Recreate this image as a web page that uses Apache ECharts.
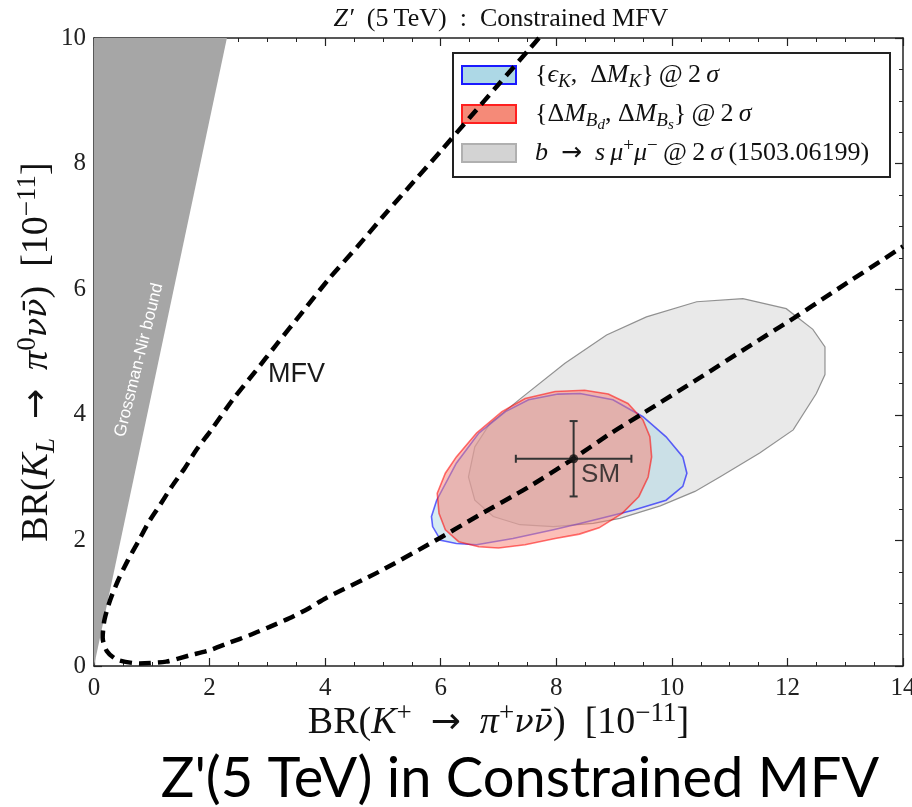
<!DOCTYPE html>
<html>
<head>
<meta charset="utf-8">
<title>Z'(5 TeV) in Constrained MFV</title>
<script src="https://cdn.jsdelivr.net/npm/echarts@6.0.0/dist/echarts.min.js"></script>
<style>
  html, body { margin: 0; padding: 0; background: #fff; }
  #chart { width: 912px; height: 807px; }
</style>
</head>
<body>
<div id="chart"></div>
<script>
// 坐标轴刻度
const xTicks = [0, 2, 4, 6, 8, 10, 12, 14]
const yTicks = [0, 2, 4, 6, 8, 10]

// Grossman-Nir 边界 (灰色三角区)
const gnBound = [[0, 0], [0, 10], [2.3, 10]]

// MFV 虚线, 从上端沿曲线走到右端
const mfvCurve = [
  [7.7, 10.0], [7.55, 9.84], [7.0, 9.26], [6.5, 8.73], [6.02, 8.22], [5.53, 7.71],
  [5.05, 7.21], [4.56, 6.68], [4.07, 6.17], [3.61, 5.64], [3.15, 5.11], [2.8, 4.7],
  [2.4, 4.24], [2.03, 3.76], [1.77, 3.44], [1.57, 3.15], [1.34, 2.85], [1.14, 2.56],
  [0.94, 2.28], [0.76, 1.97], [0.59, 1.69], [0.42, 1.37], [0.28, 1.05], [0.18, 0.73],
  [0.15, 0.45], [0.22, 0.24], [0.4, 0.1], [0.79, 0.04], [1.25, 0.07], [1.66, 0.17],
  [2.0, 0.25], [2.34, 0.37], [2.69, 0.49], [3.03, 0.62], [3.38, 0.76], [3.72, 0.92],
  [4.01, 1.08], [4.93, 1.5], [5.97, 2.03], [6.66, 2.4], [7.52, 2.85], [8.26, 3.28],
  [8.95, 3.71], [9.53, 4.04], [10.5, 4.6], [11.3, 5.07], [12.11, 5.54], [12.75, 5.93],
  [13.9, 6.62], [14.0, 6.68]
]

// b -> s mu mu @ 2 sigma
const bsmumuRegion = [
  [6.48, 3.01], [6.59, 3.49], [6.85, 3.86], [7.37, 4.25], [8.15, 4.82], [8.87, 5.27],
  [9.56, 5.56], [10.43, 5.8], [11.23, 5.85], [11.98, 5.69], [12.44, 5.36], [12.65, 5.08],
  [12.65, 4.64], [12.5, 4.34], [12.1, 3.76], [11.52, 3.39], [10.83, 3.01], [10.4, 2.78],
  [9.8, 2.55], [9.1, 2.35], [8.64, 2.27], [7.95, 2.22], [7.37, 2.25], [6.91, 2.38], [6.59, 2.64]
]

// {eps_K, Delta M_K} @ 2 sigma
const epsKRegion = [
  [5.84, 2.38], [5.93, 2.64], [6.27, 3.23], [6.66, 3.71], [7.12, 4.05], [7.52, 4.24],
  [8.03, 4.33], [8.41, 4.34], [8.98, 4.24], [9.5, 3.97], [9.9, 3.65], [10.19, 3.33],
  [10.26, 3.07], [10.19, 2.86], [9.9, 2.64], [9.33, 2.48], [8.76, 2.35], [8.41, 2.27],
  [7.95, 2.17], [7.25, 2.03], [6.62, 1.93], [6.27, 1.95], [6.0, 2.0], [5.86, 2.22]
]

// {Delta M_Bd, Delta M_Bs} @ 2 sigma
const deltaMBRegion = [
  [5.94, 2.75], [6.08, 3.07], [6.27, 3.33], [6.62, 3.71], [7.06, 4.05], [7.46, 4.26],
  [7.98, 4.37], [8.49, 4.39], [8.9, 4.33], [9.24, 4.18], [9.5, 3.92], [9.62, 3.65],
  [9.65, 3.33], [9.59, 3.01], [9.43, 2.7], [9.14, 2.43], [8.74, 2.2], [8.4, 2.1],
  [7.98, 2.03], [7.46, 1.93], [7.0, 1.88], [6.66, 1.9], [6.31, 1.98], [6.08, 2.17], [5.97, 2.43]
]

// SM 预测值及误差
const smPoint = [[8.3, 3.3]]
const smError = [[8.3, 3.3, 1.0, 0.6]]

const serif = "'Liberation Serif', 'DejaVu Serif', serif"
const sans = "'Liberation Sans', Arial, sans-serif"

// 数学公式用的 rich 样式: 斜体, 下标, 上标, 箭头
function mathRich (size, color) {
  const lh = Math.round(size * 1.4)
  const s = Math.round(size * 0.72)
  const ss = Math.round(size * 0.56)
  return {
    r: { fontFamily: serif, fontSize: size, color, lineHeight: lh },
    i: { fontFamily: serif, fontSize: size, fontStyle: 'italic', color, lineHeight: lh },
    nu: { fontFamily: "'DejaVu Serif', serif", fontSize: Math.round(size * 0.85), fontStyle: 'italic', color, lineHeight: lh },
    ar: { fontFamily: "'DejaVu Sans', sans-serif", fontSize: Math.round(size * 0.95), color, lineHeight: lh },
    sub: { fontFamily: serif, fontSize: s, fontStyle: 'italic', color, lineHeight: lh, padding: [Math.round(size * 0.5), 0, 0, 0] },
    ss: { fontFamily: serif, fontSize: ss, fontStyle: 'italic', color, lineHeight: lh, padding: [Math.round(size * 0.9), 0, 0, 0] },
    sup: { fontFamily: serif, fontSize: s, color, lineHeight: lh, padding: [0, 0, Math.round(size * 0.5), 0] }
  }
}

// 画一个闭合区域 (只在第一个数据项上画整条多边形)
function regionSeries (name, pts, fill, stroke, width, z) {
  return {
    type: 'custom',
    name,
    z,
    silent: true,
    clip: true,
    data: pts,
    renderItem: (params, api) => {
      if (params.dataIndexInside !== 0) return
      return {
        type: 'polygon',
        shape: { points: pts.map(p => api.coord(p)) },
        style: { fill, stroke, lineWidth: width }
      }
    }
  }
}

const chart = echarts.init(document.getElementById('chart'), null, { renderer: 'canvas' })

const axisCommon = {
  type: 'value',
  axisLine: { show: true, onZero: false, lineStyle: { color: '#222', width: 1.5 } },
  axisTick: { show: true, inside: true, length: 8, lineStyle: { color: '#222', width: 1.2 } },
  minorTick: { show: true, splitNumber: 4, length: 4, lineStyle: { color: '#222', width: 1 } },
  splitLine: { show: false },
  minorSplitLine: { show: false }
}

const xCommon = Object.assign({}, axisCommon, {
  min: xTicks[0], max: xTicks[xTicks.length - 1], interval: xTicks[1] - xTicks[0]
})
const yCommon = Object.assign({}, axisCommon, {
  min: yTicks[0], max: yTicks[yTicks.length - 1], interval: yTicks[1] - yTicks[0]
})

const tickLabel = { fontFamily: serif, fontSize: 25, color: '#222' }
const sp = '\u2002' // en space
const th = '\u2009' // thin space

const option = {
  animation: false,
  backgroundColor: '#fff',
  title: {
    text: '{i|Z′}' + sp + '(5' + th + 'TeV)' + sp + ':' + sp + 'Constrained MFV',
    left: 496,
    top: -4,
    textAlign: 'center',
    textStyle: { fontFamily: serif, fontSize: 26, fontWeight: 'normal', color: '#111', rich: mathRich(26, '#111') }
  },
  grid: { left: 94, right: 9, top: 38, bottom: 141, outerBoundsMode: 'none', containLabel: false },
  xAxis: [
    Object.assign({}, xCommon, {
      position: 'bottom',
      axisLabel: Object.assign({ margin: 10 }, tickLabel),
      name: 'BR({i|K}{sup|+}' + sp + '{ar|→}' + sp + '{i|π}{sup|+}{nu|νν̄})' + sp + '[10{sup|−11}]',
      nameLocation: 'middle',
      nameGap: 31,
      nameMoveOverlap: false,
      nameTextStyle: { fontFamily: serif, fontSize: 38, color: '#111', rich: mathRich(38, '#111') }
    }),
    Object.assign({}, xCommon, { position: 'top', axisLabel: { show: false } })
  ],
  yAxis: [
    Object.assign({}, yCommon, {
      position: 'left',
      axisLabel: Object.assign({ margin: 8 }, tickLabel),
      name: 'BR({i|K}{sub|L}' + sp + '{ar|→}' + sp + '{i|π}{sup|0}{nu|νν̄})' + sp + '[10{sup|−11}]',
      nameLocation: 'middle',
      nameGap: 30,
      nameMoveOverlap: false,
      nameTextStyle: { fontFamily: serif, fontSize: 38, color: '#111', rich: mathRich(38, '#111') }
    }),
    Object.assign({}, yCommon, { position: 'right', axisLabel: { show: false } })
  ],
  series: [
    regionSeries('Grossman-Nir bound', gnBound, '#a6a6a6', null, 0, 1),
    regionSeries('bsmumu', bsmumuRegion, 'rgba(211,211,211,0.5)', 'rgba(120,120,120,0.8)', 1.2, 2),
    regionSeries('epsK', epsKRegion, 'rgba(173,216,230,0.5)', 'rgba(0,0,255,0.6)', 1.6, 3),
    regionSeries('deltaMB', deltaMBRegion, 'rgba(250,128,114,0.5)', 'rgba(255,0,0,0.55)', 1.6, 4),
    {
      type: 'line',
      name: 'MFV',
      z: 5,
      data: mfvCurve,
      smooth: 0.25,
      showSymbol: false,
      symbol: 'none',
      lineStyle: { color: '#000', width: 4.5, type: [12, 7] }
    },
    {
      // SM 误差棒
      type: 'custom',
      name: 'SM error',
      z: 6,
      silent: true,
      data: smError,
      renderItem: (params, api) => {
        const x = api.value(0)
        const y = api.value(1)
        const ex = api.value(2)
        const ey = api.value(3)
        const l = api.coord([x - ex, y])
        const r = api.coord([x + ex, y])
        const t = api.coord([x, y + ey])
        const b = api.coord([x, y - ey])
        const cap = 4
        const st = { stroke: '#333', lineWidth: 2 }
        return {
          type: 'group',
          children: [
            { type: 'line', shape: { x1: l[0], y1: l[1], x2: r[0], y2: r[1] }, style: st },
            { type: 'line', shape: { x1: t[0], y1: t[1], x2: b[0], y2: b[1] }, style: st },
            { type: 'line', shape: { x1: l[0], y1: l[1] - cap, x2: l[0], y2: l[1] + cap }, style: st },
            { type: 'line', shape: { x1: r[0], y1: r[1] - cap, x2: r[0], y2: r[1] + cap }, style: st },
            { type: 'line', shape: { x1: t[0] - cap, y1: t[1], x2: t[0] + cap, y2: t[1] }, style: st },
            { type: 'line', shape: { x1: b[0] - cap, y1: b[1], x2: b[0] + cap, y2: b[1] }, style: st }
          ]
        }
      }
    },
    {
      type: 'scatter',
      name: 'SM',
      z: 7,
      data: smPoint,
      symbolSize: 9,
      itemStyle: { color: '#111' },
      label: {
        show: true,
        formatter: 'SM',
        position: [12, 8],
        align: 'left',
        verticalAlign: 'top',
        fontFamily: sans,
        fontSize: 26,
        color: '#1a1a1a'
      }
    }
  ],
  graphic: [
    {
      type: 'text',
      x: 139,
      y: 360,
      rotation: 76 * Math.PI / 180,
      z: 10,
      style: { text: 'Grossman-Nir bound', fill: '#fff', fontFamily: sans, fontSize: 17, align: 'center', verticalAlign: 'middle' }
    },
    {
      type: 'text',
      x: 268,
      y: 375,
      z: 10,
      style: { text: 'MFV', fill: '#1a1a1a', fontFamily: sans, fontSize: 27, align: 'left', verticalAlign: 'middle' }
    },
    // 图例
    {
      type: 'group',
      z: 20,
      children: [
        { type: 'rect', shape: { x: 453, y: 53, width: 437, height: 124 }, style: { fill: '#fff', stroke: '#222', lineWidth: 2 } },
        { type: 'rect', shape: { x: 462, y: 66, width: 54, height: 18 }, style: { fill: '#add8e6', stroke: '#1a1aff', lineWidth: 2 } },
        { type: 'rect', shape: { x: 462, y: 105, width: 54, height: 18 }, style: { fill: '#f58a78', stroke: '#ff2020', lineWidth: 2 } },
        { type: 'rect', shape: { x: 462, y: 144, width: 54, height: 18 }, style: { fill: '#d3d3d3', stroke: '#b0b0b0', lineWidth: 2 } },
        {
          type: 'text', x: 535, y: 75,
          style: { text: '{{i|ϵ}{sub|K},' + sp + 'Δ{i|M}{sub|K}}' + th + '@' + th + '2' + th + '{i|σ}', fill: '#111', fontFamily: serif, fontSize: 26, align: 'left', verticalAlign: 'middle', rich: mathRich(26, '#111') }
        },
        {
          type: 'text', x: 535, y: 114,
          style: { text: '{Δ{i|M}{sub|B}{ss|d}, Δ{i|M}{sub|B}{ss|s}}' + th + '@' + th + '2' + th + '{i|σ}', fill: '#111', fontFamily: serif, fontSize: 26, align: 'left', verticalAlign: 'middle', rich: mathRich(26, '#111') }
        },
        {
          type: 'text', x: 535, y: 153,
          style: { text: '{i|b}' + sp + '{ar|→}' + sp + '{i|s}' + th + '{i|μ}{sup|+}{i|μ}{sup|−}' + th + '@' + th + '2' + th + '{i|σ}' + th + '(1503.06199)', fill: '#111', fontFamily: serif, fontSize: 26, align: 'left', verticalAlign: 'middle', rich: mathRich(26, '#111') }
        }
      ]
    },
    {
      type: 'text',
      x: 520,
      y: 779,
      z: 10,
      style: { text: "Z'(5 TeV) in Constrained MFV", fill: '#000', fontFamily: "Lato, 'Open Sans', sans-serif", fontSize: 56, align: 'center', verticalAlign: 'middle' }
    }
  ]
}

chart.setOption(option)
</script>
</body>
</html>
